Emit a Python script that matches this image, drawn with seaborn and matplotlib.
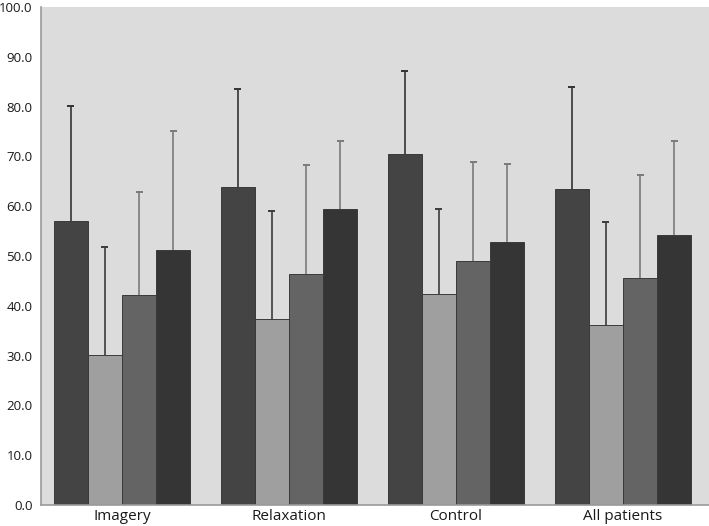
import matplotlib
matplotlib.use("Agg")
import matplotlib.pyplot as plt
from matplotlib.container import BarContainer
import seaborn as sns
import pandas as pd
import numpy as np

categories = ["Imagery", "Relaxation", "Control", "All patients"]
series_names = ["S1", "S2", "S3", "S4"]
s1_mean = [57.1, 63.9, 70.4, 63.4]
s2_mean = [30.2, 37.3, 42.3, 36.2]
s3_mean = [42.1, 46.3, 48.9, 45.5]
s4_mean = [51.3, 59.5, 52.8, 54.3]
s1_top = [80.1, 83.6, 87.2, 84.0]
s2_top = [51.9, 59.0, 59.4, 56.9]
s3_top = [62.9, 68.2, 68.8, 66.2]
s4_top = [75.2, 73.0, 68.4, 73.0]
yticks = [0, 10, 20, 30, 40, 50, 60, 70, 80, 90, 100]

colors = ["#444444", "#9f9f9f", "#646464", "#353535"]
err_colors = ["#333333", "#3c3c3c", "#7a7a7a", "#7a7a7a"]

means = [s1_mean, s2_mean, s3_mean, s4_mean]
tops = [s1_top, s2_top, s3_top, s4_top]
rows = []
for s, m in zip(series_names, means):
    for c, v in zip(categories, m):
        rows.append({"cat": c, "series": s, "value": v})
df = pd.DataFrame(rows)

sns.set_theme(style="white")
plt.rcParams["font.family"] = ["Open Sans", "DejaVu Sans"]

fig = plt.figure(figsize=(7.09, 5.26), dpi=100)
ax = fig.add_axes([41 / 709, 1 - 505 / 526, 1 - 41 / 709, (505 - 7) / 526])
ax.set_facecolor("#dcdcdc")

sns.barplot(data=df, x="cat", y="value", hue="series", order=categories,
            hue_order=series_names, palette=colors, width=0.815,
            edgecolor="#3a3a3a", linewidth=0.7, legend=False, ax=ax, zorder=2)

bar_containers = [c for c in ax.containers if isinstance(c, BarContainer)]
cap_half = 0.021
for si, container in enumerate(bar_containers):
    for bi, patch in enumerate(container.patches):
        xc = patch.get_x() + patch.get_width() / 2
        m = means[si][bi]
        t = tops[si][bi]
        ax.vlines(xc, m, t, colors=err_colors[si], linewidth=1.2, zorder=1)
        ax.hlines(t, xc - cap_half, xc + cap_half, colors=err_colors[si],
                  linewidth=1.4, zorder=1)

ax.set_xlim(-0.485, 3.515)
ax.set_ylim(0, 100)
ax.set_yticks(yticks)
ax.set_yticklabels([f"{t:.1f}" for t in yticks], fontsize=9.5, color="#1a1a1a")
ax.tick_params(axis="y", length=0, pad=6)
ax.tick_params(axis="x", length=0, pad=3)
ax.set_xticks(range(len(categories)))
ax.set_xticklabels(categories, fontsize=11, color="#1a1a1a")
ax.set_xlabel("")
ax.set_ylabel("")
for side in ["top", "right"]:
    ax.spines[side].set_visible(False)
for side in ["left", "bottom"]:
    ax.spines[side].set_color("#9a9a9a")
    ax.spines[side].set_linewidth(1.2)

fig.savefig("out.png", dpi=100)
